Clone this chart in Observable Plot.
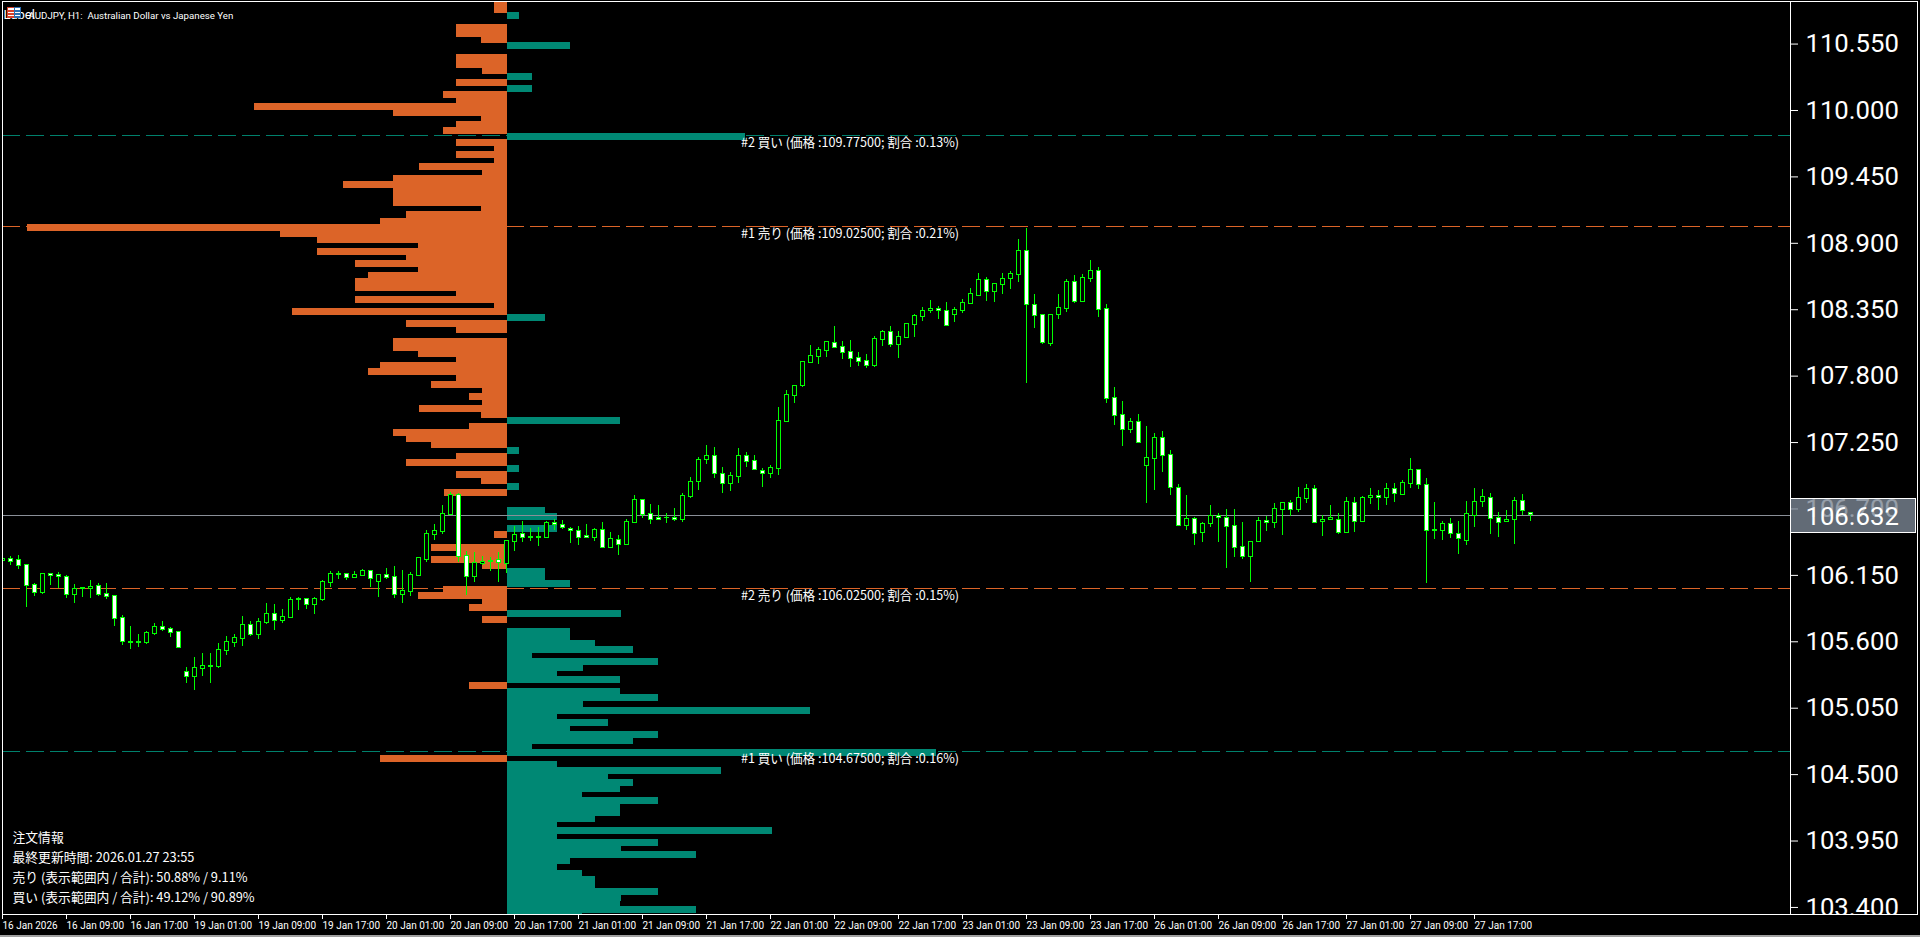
<!DOCTYPE html>
<html><head><meta charset="utf-8">
<script src="https://cdn.jsdelivr.net/npm/d3@7"></script>
<script src="https://cdn.jsdelivr.net/npm/@observablehq/plot@0.6"></script>
<style>html,body{margin:0;padding:0;background:#000;overflow:hidden}svg{display:block}</style>
</head><body><div id="chart"></div>
<script>
const open=[106.249,106.265,106.257,106.216,106.050,105.987,106.141,106.133,106.116,105.973,106.025,106.017,106.042,105.976,105.959,105.777,105.578,105.578,105.576,105.650,105.703,105.686,105.661,105.330,105.294,105.360,105.377,105.377,105.509,105.576,105.609,105.719,105.639,105.738,105.810,105.758,105.782,105.934,105.934,105.890,105.929,106.072,106.136,106.141,106.114,106.127,106.166,106.081,106.133,106.116,105.973,105.998,106.130,106.263,106.470,106.494,106.632,106.795,106.290,106.122,106.229,106.246,106.257,106.229,106.412,
106.475,106.453,106.450,106.439,106.566,106.549,106.516,106.500,106.458,106.447,106.508,106.364,106.425,106.387,106.571,106.756,106.640,106.610,106.605,106.607,106.588,106.784,106.903,107.085,107.120,106.972,106.894,106.952,107.120,107.079,106.996,106.969,107.018,107.407,107.623,107.705,107.896,107.945,107.995,108.056,108.023,107.981,107.932,107.907,107.871,108.086,108.147,108.045,108.103,108.210,108.277,108.321,108.337,108.321,108.293,108.326,108.384,108.451,108.578,108.484,108.542,108.585,108.624,108.817,108.370,108.287,108.053,108.293,108.342,108.560,108.400,108.591,108.651,108.337,107.600,107.460,107.341,107.402,107.043,107.101,107.269,107.129,106.855,106.546,106.599,106.488,106.555,106.624,106.607,106.541,106.367,106.282,106.406,106.582,106.571,106.679,106.731,106.671,106.770,106.847,106.574,106.591,106.591,106.488,106.731,106.579,106.773,106.789,106.778,106.847,106.803,106.894,107.004,106.880,106.510,106.505,106.557,106.475,106.422,106.629,106.737,106.773,106.607,106.574,106.588,106.748,106.649];
const high=[106.271,106.293,106.301,106.216,106.069,106.152,106.141,106.158,106.136,106.061,106.036,106.094,106.069,106.069,105.959,105.805,105.714,105.647,105.672,105.738,105.755,105.703,105.669,105.374,105.457,105.490,105.490,105.573,105.631,105.647,105.796,105.755,105.777,105.904,105.896,105.851,105.954,105.954,105.945,105.954,106.094,106.169,106.169,106.144,106.169,106.185,106.177,106.136,106.194,106.210,106.177,106.161,106.276,106.508,106.558,106.715,106.823,106.812,106.334,106.326,106.293,106.282,106.326,106.425,106.541,
106.577,106.519,106.527,106.577,106.594,106.585,106.527,106.536,106.552,106.519,106.569,106.486,106.461,106.594,106.792,106.759,106.718,106.709,106.643,106.685,106.809,106.941,107.107,107.206,107.189,107.024,106.983,107.181,107.148,107.123,107.016,107.040,107.521,107.661,107.700,107.907,108.034,108.017,108.067,108.191,108.067,108.075,107.976,107.959,108.108,108.158,108.191,108.150,108.216,108.290,108.348,108.406,108.357,108.390,108.348,108.414,108.506,108.636,108.603,108.545,108.636,108.647,108.919,109.002,108.456,108.296,108.298,108.456,108.585,108.621,108.629,108.737,108.679,108.373,107.686,107.570,107.429,107.462,107.363,107.305,107.322,107.164,106.883,106.792,106.610,106.568,106.709,106.643,106.676,106.676,106.568,106.408,106.615,106.618,106.731,106.731,106.751,106.858,106.883,106.875,106.626,106.709,106.643,106.775,106.775,106.784,106.850,106.833,106.891,106.891,106.916,107.098,107.007,106.933,106.734,106.577,106.602,106.577,106.742,106.850,106.842,106.808,106.651,106.668,106.775,106.800,106.649];
const low=[106.243,106.218,106.185,105.871,105.962,105.978,106.053,106.025,105.945,105.904,105.954,105.945,105.962,105.937,105.714,105.556,105.523,105.540,105.565,105.639,105.667,105.622,105.534,105.234,105.184,105.300,105.234,105.366,105.474,105.540,105.548,105.631,105.606,105.730,105.680,105.738,105.780,105.846,105.854,105.813,105.918,106.036,106.103,106.094,106.111,106.127,106.036,105.954,106.103,105.945,105.904,105.962,106.125,106.243,106.425,106.475,106.632,106.243,105.970,106.078,106.218,106.169,106.078,106.152,106.334,
106.403,106.411,106.370,106.436,106.502,106.511,106.395,106.378,106.436,106.411,106.353,106.362,106.296,106.378,106.560,106.602,106.552,106.585,106.560,106.577,106.569,106.767,106.834,107.049,106.933,106.809,106.825,106.892,107.024,106.999,106.858,106.933,106.958,107.396,107.554,107.686,107.885,107.876,107.934,108.009,107.918,107.852,107.860,107.843,107.852,108.025,108.017,107.926,108.100,108.100,108.232,108.299,108.249,108.202,108.224,108.299,108.373,108.443,108.399,108.390,108.457,108.505,108.555,107.719,108.182,108.042,108.025,108.249,108.307,108.381,108.398,108.563,108.265,107.553,107.371,107.198,107.305,107.222,106.726,106.833,106.982,106.792,106.535,106.502,106.378,106.403,106.527,106.403,106.188,106.279,106.262,106.072,106.403,106.494,106.519,106.461,106.618,106.651,106.726,106.560,106.453,106.585,106.469,106.477,106.486,106.568,106.717,106.668,106.709,106.734,106.800,106.850,106.842,106.064,106.428,106.419,106.436,106.304,106.378,106.527,106.693,106.469,106.444,106.568,106.386,106.626,106.580];
const close=[106.265,106.246,106.213,106.047,105.989,106.141,106.130,106.116,105.973,106.017,106.017,106.034,105.973,105.956,105.774,105.584,105.573,105.573,105.653,105.703,105.683,105.658,105.534,105.294,105.363,105.380,105.382,105.512,105.578,105.611,105.719,105.639,105.744,105.810,105.755,105.785,105.926,105.926,105.890,105.934,106.075,106.141,106.141,106.114,106.133,106.166,106.103,106.133,106.114,105.970,106.000,106.133,106.274,106.472,106.497,106.638,106.795,106.285,106.122,106.232,106.246,106.252,106.232,106.414,106.464,
106.447,106.447,106.439,106.566,106.547,106.522,106.497,106.447,106.447,106.508,106.364,106.434,106.389,106.574,106.756,106.635,106.596,106.596,106.610,106.588,106.789,106.905,107.087,107.120,106.969,106.894,106.955,107.120,107.076,107.002,106.969,107.021,107.410,107.625,107.700,107.899,107.948,107.998,108.064,108.020,107.979,107.929,107.904,107.871,108.089,108.147,108.045,108.105,108.213,108.279,108.321,108.337,108.321,108.202,108.329,108.387,108.461,108.578,108.484,108.545,108.586,108.632,108.817,108.370,108.285,108.058,108.287,108.345,108.560,108.400,108.594,108.651,108.334,107.598,107.457,107.341,107.402,107.231,107.104,107.269,107.126,106.853,106.546,106.599,106.480,106.557,106.624,106.607,106.538,106.364,106.282,106.408,106.582,106.566,106.682,106.731,106.671,106.773,106.847,106.571,106.591,106.607,106.488,106.740,106.579,106.773,106.789,106.778,106.847,106.806,106.897,107.004,106.886,106.497,106.505,106.557,106.480,106.431,106.640,106.740,106.781,106.604,106.571,106.591,106.748,106.665,106.632];

const sellPrice=[110.875,110.825,110.675,110.625,110.575,110.425,110.375,110.325,110.225,110.125,110.075,110.025,109.975,109.925,109.875,109.825,109.725,109.675,109.625,109.575,109.525,109.475,109.425,109.375,109.325,109.275,109.225,109.175,109.125,109.075,109.025,108.975,108.925,108.875,108.825,108.775,108.725,108.675,108.625,108.575,108.525,108.475,108.425,108.375,108.325,108.225,108.175,108.075,108.025,107.975,107.925,107.875,107.825,107.775,107.725,107.675,107.625,107.575,107.525,107.475,107.375,107.325,107.275,107.225,107.125,107.075,106.975,106.925,106.825,106.475,106.375,106.325,106.275,106.225,106.025,105.975,105.925,105.875,105.775,105.225,104.625];
const sellVolume=[13,13,51,51,26,51,51,25,51,64,51,253,114,26,51,64,51,13,51,13,88,25,114,164,114,114,114,26,101,127,480,227,190,89,190,101,152,89,139,152,152,51,152,13,215,101,51,114,114,89,51,127,139,51,76,25,38,25,88,26,38,114,101,76,51,101,51,26,63,13,76,51,76,25,64,89,25,38,25,38,127];
const buyPrice=[110.775,110.525,110.275,110.175,109.775,108.275,107.425,107.175,107.025,106.875,106.675,106.625,106.525,106.175,106.125,106.075,105.825,105.675,105.625,105.575,105.525,105.475,105.425,105.375,105.325,105.275,105.175,105.125,105.075,105.025,104.975,104.925,104.875,104.825,104.775,104.725,104.675,104.575,104.525,104.475,104.425,104.375,104.325,104.275,104.225,104.175,104.125,104.075,104.025,103.975,103.925,103.875,103.825,103.775,103.725,103.675,103.625,103.575,103.525,103.475,103.425,103.375,103.325];
const buyVolume=[12,63,25,25,238,38,113,12,12,12,38,50,50,38,38,63,114,63,63,88,126,25,151,76,50,113,113,151,76,303,50,101,63,151,126,25,429,50,214,101,126,113,75,151,113,113,88,50,265,50,151,114,189,63,50,75,88,88,151,114,113,189,75];

const priceTicks=[110.55,110,109.45,108.9,108.35,107.8,107.25,106.7,106.15,105.6,105.05,104.5,103.95,103.4];
const timeTicks=[0,8,16,24,32,40,48,56,64,72,80,88,96,104,112,120,128,136,144,152,160,168,176,184];
const timeLabels=["16 Jan 2026","16 Jan 09:00","16 Jan 17:00","19 Jan 01:00","19 Jan 09:00","19 Jan 17:00","20 Jan 01:00","20 Jan 09:00","20 Jan 17:00","21 Jan 01:00","21 Jan 09:00","21 Jan 17:00","22 Jan 01:00","22 Jan 09:00","22 Jan 17:00","23 Jan 01:00","23 Jan 09:00","23 Jan 17:00","26 Jan 01:00","26 Jan 09:00","26 Jan 17:00","27 Jan 01:00","27 Jan 09:00","27 Jan 17:00"];
const orders=[
 {price:109.775,side:"buy",label:"#2 買い (価格 :109.77500; 割合 :0.13%)"},
 {price:109.025,side:"sell",label:"#1 売り (価格 :109.02500; 割合 :0.21%)"},
 {price:106.025,side:"sell",label:"#2 売り (価格 :106.02500; 割合 :0.15%)"},
 {price:104.675,side:"buy",label:"#1 買い (価格 :104.67500; 割合 :0.16%)"}];
const infoLines=["注文情報","最終更新時間: 2026.01.27 23:55","売り (表示範囲内 / 合計): 50.88% / 9.11%","買い (表示範囲内 / 合計): 49.12% / 90.89%"];
const currentPrice=106.632;
const titleText="AUDJPY, H1:  Australian Dollar vs Japanese Yen";

const ORANGE="#dc6428", TEAL="#008874", GREEN="#00ff00";
const baseBar=63.125, volPerBar=8, labelBar=92.3;
const candles=open.map((o,i)=>({i,o,h:high[i],l:low[i],c:close[i],down:close[i]<o}));
const sells=sellPrice.map((p,k)=>({p,v:sellVolume[k]}));
const buys=buyPrice.map((p,k)=>({p,v:buyVolume[k]}));
const CJK='"Noto Sans CJK JP"';

const chrome=(index,{y},v,d)=>{
  const g=d3.create("svg:g").attr("shape-rendering","crispEdges");
  const right=d.width-d.marginRight, bottom=d.height-d.marginBottom;
  g.append("rect").attr("x",right+1).attr("y",bottom).attr("width",d.marginRight).attr("height",d.marginBottom).attr("fill","#000");
  g.append("rect").attr("x",0).attr("y",bottom+1).attr("width",d.width).attr("height",d.marginBottom).attr("fill","#000");
  g.append("path").attr("d",`M${right} 1.5H1917.5V${bottom+.5}H${right}`).attr("fill","none").attr("stroke","#fff");
  g.append("rect").attr("x",0).attr("y",935).attr("width",d.width).attr("height",2).attr("fill","#a0a0a0");
  return g.node();
};
const tag=(index,{y},v,d)=>{
  const g=d3.create("svg:g").attr("shape-rendering","crispEdges");
  const cy=y(currentPrice), right=d.width-d.marginRight;
  g.append("rect").attr("x",right+.5).attr("y",cy-16.5).attr("width",125).attr("height",34)
   .attr("fill","#7a8694").attr("fill-opacity",.8).attr("stroke","#fff");
  return g.node();
};
const icon=()=>{
  const g=d3.create("svg:g").attr("shape-rendering","crispEdges");
  g.append("rect").attr("x",7.5).attr("y",7.5).attr("width",7).attr("height",10).attr("fill","#fff").attr("stroke","#d8402a");
  g.append("rect").attr("x",14.5).attr("y",7.5).attr("width",6).attr("height",10).attr("fill","#fff").attr("stroke","#2a6db0");
  for(const yy of [10,13,16]){
    g.append("rect").attr("x",8).attr("y",yy).attr("width",6).attr("height",1.5).attr("fill","#d8402a");
    g.append("rect").attr("x",15).attr("y",yy).attr("width",5).attr("height",1.5).attr("fill","#2a6db0");
  }
  return g.node();
};

const chart=Plot.plot({
  width:1920,height:937,
  marginLeft:2,marginRight:130,marginTop:1,marginBottom:23,
  style:{background:"#000",color:"#fff",maxWidth:"none",overflow:"hidden"},
  x:{type:"linear",domain:[0,223.5],axis:null},
  y:{type:"linear",domain:[103.325,110.886],axis:null},
  marks:[
    Plot.ruleY(orders,{y:"price",stroke:d=>d.side==="buy"?"#00806c":ORANGE,strokeDasharray:"18,6",strokeWidth:1,shapeRendering:"crispEdges",clip:"frame"}),
    Plot.rect(sells,{x1:d=>baseBar-d.v/volPerBar,x2:baseBar,y1:d=>d.p+0.018,y2:d=>d.p-0.04,fill:ORANGE,inset:0,clip:"frame",shapeRendering:"crispEdges"}),
    Plot.rect(buys,{x1:baseBar,x2:d=>baseBar+d.v/volPerBar,y1:d=>d.p+0.018,y2:d=>d.p-0.04,fill:TEAL,inset:0,clip:"frame",shapeRendering:"crispEdges"}),
    Plot.ruleY([currentPrice],{stroke:"#8a8f98",strokeWidth:1,shapeRendering:"crispEdges",clip:"frame"}),
    Plot.ruleX(candles,{x:"i",y1:"l",y2:"h",stroke:GREEN,strokeWidth:1,shapeRendering:"crispEdges",clip:"frame"}),
    Plot.rect(candles,{x1:d=>d.i-0.25,x2:d=>d.i+0.25,y1:d=>Math.max(d.o,d.c),y2:d=>Math.min(d.o,d.c),fill:d=>d.down?"#fff":"#000",stroke:GREEN,strokeWidth:1,shapeRendering:"crispEdges",clip:"frame"}),
    Plot.text(orders,{x:()=>labelBar,y:"price",text:"label",textAnchor:"start",dy:7.5,fill:"#fff",fontSize:12.6,fontFamily:CJK}),
    ...infoLines.map((t,k)=>Plot.text([t],{frameAnchor:"bottom-left",dx:10,dy:-(76.5-20*k),fill:"#fff",fontSize:12.8,fontFamily:CJK,lineAnchor:"middle",textAnchor:"start"})),
    Plot.text(["Label"],{frameAnchor:"top-left",dx:1,dy:8,fill:"#fff",fontSize:13,fontFamily:"Roboto",textAnchor:"start"}),
    icon,
    Plot.text([titleText],{frameAnchor:"top-left",dx:26,dy:11,fill:"#fff",fontSize:9.7,fontFamily:"Roboto",textAnchor:"start"}),
    Plot.axisY({anchor:"right",ticks:priceTicks,tickSize:7,tickPadding:8,tickFormat:d3.format(".3f"),fontSize:25.7,fontFamily:"Roboto",stroke:"#fff",fill:"#fff",dy:2,label:null}),
    tag,
    Plot.text([currentPrice],{y:d=>d,text:d=>d3.format(".3f")(d),frameAnchor:"right",textAnchor:"start",dx:15,dy:2,fill:"#fff",fontSize:25.7,fontFamily:"Roboto"}),
    chrome,
    Plot.frame({stroke:"#fff",strokeWidth:1,shapeRendering:"crispEdges"}),
    Plot.axisX({anchor:"bottom",ticks:timeTicks,tickSize:5,tickPadding:2,tickFormat:i=>timeLabels[i/8],textAnchor:"start",fontSize:10,fontFamily:"Roboto",stroke:"#fff",fill:"#fff",label:null})
  ]
});
document.getElementById("chart").append(chart);
</script></body></html>
